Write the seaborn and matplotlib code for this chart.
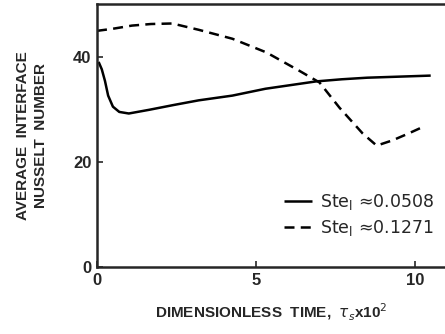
import matplotlib
matplotlib.use("Agg")
import matplotlib.pyplot as plt
import seaborn as sns
import pandas as pd

t_solid = [0.05, 0.15, 0.25, 0.35, 0.5, 0.7, 1.0, 1.64, 2.4, 3.2, 4.26, 5.3, 6.1, 6.9, 7.7, 8.5, 9.5, 10.5]
nu_solid = [39.0, 37.6, 35.4, 32.6, 30.5, 29.5, 29.2, 29.9, 30.8, 31.7, 32.6, 33.9, 34.6, 35.3, 35.7, 36.0, 36.2, 36.4]
t_dash = [0.0, 0.5, 1.1, 1.7, 2.37, 3.2, 4.26, 5.33, 6.37, 7.0, 7.63, 8.36, 8.8, 9.3, 9.8, 10.2]
nu_dash = [44.9, 45.3, 45.9, 46.2, 46.3, 45.1, 43.4, 40.8, 37.3, 35.1, 30.3, 25.4, 23.1, 24.1, 25.4, 26.5]
labels = ["Ste$_\\mathrm{l}$ \u22480.0508", "Ste$_\\mathrm{l}$ \u22480.1271"]

df = pd.concat([
    pd.DataFrame({"t": t_solid, "nu": nu_solid, "case": labels[0]}),
    pd.DataFrame({"t": t_dash, "nu": nu_dash, "case": labels[1]}),
])

sns.set_style("ticks")
plt.rcParams["font.family"] = ["Liberation Sans", "DejaVu Sans"]
plt.rcParams["mathtext.fontset"] = "dejavusans"

fig = plt.figure(figsize=(4.45, 3.34), dpi=100)
ax = fig.add_axes([0.218, 0.2, 0.782, 0.788])
sns.lineplot(data=df, x="t", y="nu", hue="case", style="case",
             palette=["black", "black"], dashes=[(1, 0), (4, 2.5)],
             linewidth=1.8, sort=False, ax=ax)

ax.set_xlim(0, 10.95)
ax.set_ylim(0, 50)
ax.set_xticks([0, 5, 10])
ax.set_yticks([0, 20, 40])
ax.tick_params(direction="in", length=4, width=1.2, labelsize=12, pad=4)
for lbl in ax.get_xticklabels() + ax.get_yticklabels():
    lbl.set_fontweight("bold")
ax.spines["right"].set_visible(False)
for s in ["left", "top", "bottom"]:
    ax.spines[s].set_linewidth(1.8)

ax.set_xlabel("DIMENSIONLESS  TIME,  $\\tau_s$x10$^2$", fontsize=11,
              fontweight="bold", labelpad=10)
ax.set_ylabel("AVERAGE  INTERFACE\nNUSSELT  NUMBER", fontsize=11,
              fontweight="bold", labelpad=18, linespacing=1.35)

leg = ax.legend(loc="lower right", bbox_to_anchor=(1.0, 0.07), frameon=False,
                prop={"family": "DejaVu Sans", "size": 12.5},
                handlelength=1.6, handletextpad=0.5,
                labelspacing=0.35, borderaxespad=0.2, title=None)

fig.savefig("out.png", dpi=100)
plt.close(fig)
